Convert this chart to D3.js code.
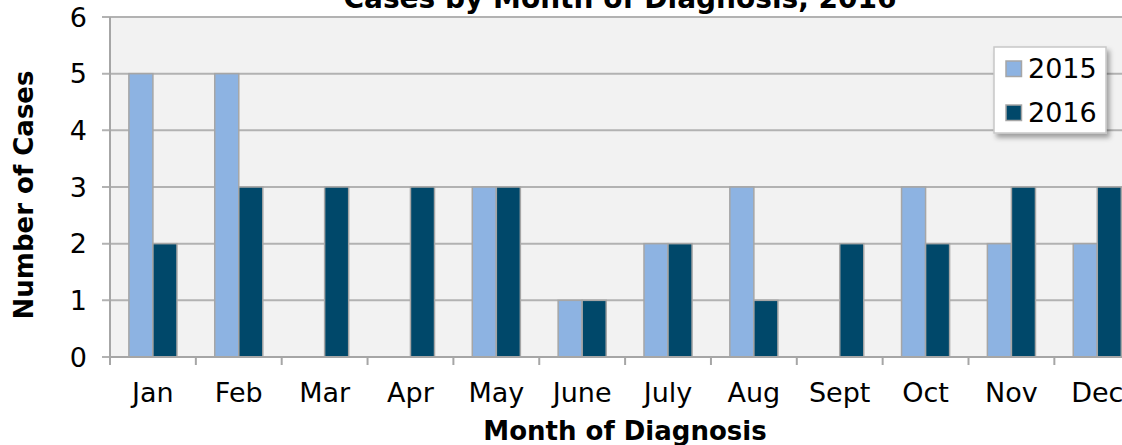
<!DOCTYPE html>
<html>
<head>
<meta charset="utf-8">
<script src="https://cdn.jsdelivr.net/npm/d3@7"></script>
<style>
  html, body { margin: 0; padding: 0; background: #ffffff; overflow: hidden; }
  svg { display: block; font-family: "DejaVu Sans", Verdana, sans-serif; }
</style>
</head>
<body>
<svg id="chart" width="1122" height="445"></svg>
<script>
const months = ["Jan", "Feb", "Mar", "Apr", "May", "June", "July", "Aug", "Sept", "Oct", "Nov", "Dec"];
const seriesNames = ["2015", "2016"];
const cases2015 = [5, 5, 0, 0, 3, 1, 2, 3, 0, 3, 2, 2];
const cases2016 = [2, 3, 3, 3, 3, 1, 2, 1, 2, 2, 3, 3];
const yTicks = [0, 1, 2, 3, 4, 5, 6];
const colors = ["#8db3e2", "#00486a"];
const titleText = "Cases by Month of Diagnosis, 2016";
const xTitle = "Month of Diagnosis";
const yTitle = "Number of Cases";

(function () {
const svg = d3.select("#chart");
const plotLeft = 110, plotTop = 17, plotBottom = 357;
const step = 85.85;
const plotRight = plotLeft + step * months.length;

const x = d3.scaleBand().domain(months).range([plotLeft, plotRight]).paddingInner(0.44).paddingOuter(0.22);
const xs = d3.scaleBand().domain(seriesNames).range([0, x.bandwidth()]).padding(0);
const y = d3.scaleLinear().domain([0, 6]).range([plotBottom, plotTop]);

const defs = svg.append("defs");
const f = defs.append("filter").attr("id", "shadow").attr("x", "-20%").attr("y", "-20%").attr("width", "150%").attr("height", "150%");
f.append("feDropShadow").attr("dx", 3).attr("dy", 4).attr("stdDeviation", 2.5).attr("flood-color", "#000").attr("flood-opacity", 0.35);

// plot background
svg.append("rect").attr("x", plotLeft).attr("y", plotTop).attr("width", 1122 - plotLeft).attr("height", plotBottom - plotTop).attr("fill", "#f2f2f2");

// gridlines
svg.append("g").selectAll("line").data(yTicks).join("line")
  .attr("x1", plotLeft - 8).attr("x2", 1122)
  .attr("y1", d => y(d)).attr("y2", d => y(d))
  .attr("stroke", "#b2b2b2").attr("stroke-width", 2);

// bars
const data = months.map((m, i) => ({ m, vals: [cases2015[i], cases2016[i]] }));
const groups = svg.append("g").selectAll("g").data(data).join("g")
  .attr("transform", d => `translate(${x(d.m)},0)`);
groups.selectAll("rect").data(d => d.vals.map((v, j) => ({ v, s: seriesNames[j], j })).filter(e => e.v > 0)).join("rect")
  .attr("x", e => xs(e.s))
  .attr("y", e => y(e.v))
  .attr("width", xs.bandwidth())
  .attr("height", e => y(0) - y(e.v))
  .attr("fill", e => colors[e.j])
  .attr("stroke", "#a6a6a6").attr("stroke-width", 1.5);

// y axis line
svg.append("line").attr("x1", plotLeft).attr("x2", plotLeft).attr("y1", plotTop).attr("y2", plotBottom)
  .attr("stroke", "#a6a6a6").attr("stroke-width", 2);
// x axis line
svg.append("line").attr("x1", plotLeft).attr("x2", 1122).attr("y1", plotBottom).attr("y2", plotBottom)
  .attr("stroke", "#a6a6a6").attr("stroke-width", 2);
// x category ticks
svg.append("g").selectAll("line").data(months).join("line")
  .attr("x1", d => x(d) - x.step() * 0.22).attr("x2", d => x(d) - x.step() * 0.22)
  .attr("y1", plotBottom).attr("y2", plotBottom + 8)
  .attr("stroke", "#a6a6a6").attr("stroke-width", 2);

// y tick labels
svg.append("g").selectAll("text").data(yTicks).join("text")
  .attr("x", 87).attr("y", d => y(d)).attr("dy", "0.36em")
  .attr("text-anchor", "end").attr("font-size", 27).attr("fill", "#000")
  .text(d => d);

// x tick labels
svg.append("g").selectAll("text").data(months).join("text")
  .attr("x", d => x(d) + x.bandwidth() / 2).attr("y", 402)
  .attr("text-anchor", "middle").attr("font-size", 27).attr("fill", "#000")
  .text(d => d);

// titles
svg.append("text").attr("x", 620).attr("y", 8).attr("text-anchor", "middle")
  .attr("font-size", 28).attr("font-weight", "bold").text(titleText);
svg.append("text").attr("x", 625).attr("y", 440).attr("text-anchor", "middle")
  .attr("font-size", 26).attr("font-weight", "bold").text(xTitle);
svg.append("text").attr("transform", "translate(33,195) rotate(-90)").attr("text-anchor", "middle")
  .attr("font-size", 26).attr("font-weight", "bold").text(yTitle);

// legend
const lg = svg.append("g");
lg.append("rect").attr("x", 994).attr("y", 47).attr("width", 112).attr("height", 86)
  .attr("fill", "#ffffff").attr("stroke", "#c8c8c8").attr("stroke-width", 1.5).attr("filter", "url(#shadow)");
seriesNames.forEach((s, i) => {
  const yy = 61 + i * 44;
  lg.append("rect").attr("x", 1006).attr("y", yy).attr("width", 15.5).attr("height", 15.5)
    .attr("fill", colors[i]).attr("stroke", "#a6a6a6").attr("stroke-width", 1.5);
  lg.append("text").attr("x", 1028).attr("y", yy + 16.5).attr("font-size", 27).attr("fill", "#000").text(s);
});
})();
</script>
</body>
</html>
